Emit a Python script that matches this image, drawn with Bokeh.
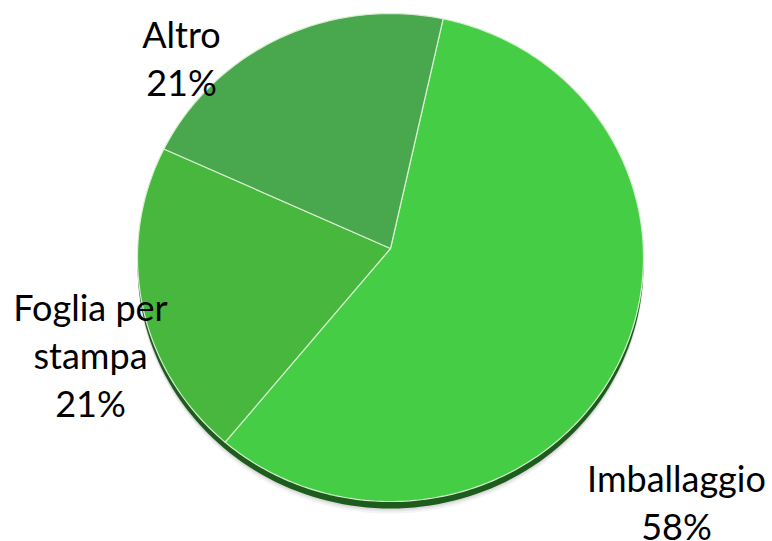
import math
from bokeh.plotting import figure
from bokeh.models import Range1d, ColumnDataSource
from bokeh.core.properties import value
from bokeh.embed import file_html
from bokeh.resources import INLINE

# ---- data (clockwise from the top) ----
categories = ["Imballaggio", "Foglia per stampa", "Altro"]
shares = [58, 21, 21]
label_lines = [["Imballaggio"], ["Foglia per", "stampa"], ["Altro"]]
colors = ["#45CE45", "#47B73E", "#49A84D"]

# ---- layout (picture pixel coordinates) ----
W, H = 772, 541
CX, CY, RX, RY = 390.0, 257.0, 253.0, 244.0
VX, VY = 390.0, 248.0
START_DEG = 12.0  # Imballaggio starts here, going clockwise from top
DEPTH = 7.0
label_pos = [(676, 477), (90, 306), (181, 33)]
LINE_GAP = 48

p = figure(width=W, height=H, x_range=Range1d(0, W), y_range=Range1d(H, 0),
           output_backend="svg", toolbar_location=None, min_border=0,
           x_axis_type=None, y_axis_type=None)
p.grid.visible = False
p.outline_line_color = None
p.background_fill_color = "white"
p.border_fill_color = "white"


def arc(t0, t1, n, cx=CX, cy=CY):
    xs, ys = [], []
    for i in range(n + 1):
        t = math.radians(t0 + (t1 - t0) * i / n)
        xs.append(cx + RX * math.sin(t))
        ys.append(cy - RY * math.cos(t))
    return xs, ys

# soft shadow
for k, a in [(12, 0.08), (10, 0.10), (8.5, 0.12)]:
    xs, ys = arc(0, 360, 200, cy=CY + k)
    p.patch(xs, ys, fill_color="#777777", fill_alpha=a, line_color=None)

# side (depth)
xs, ys = arc(0, 360, 200, cy=CY + DEPTH)
p.patch(xs, ys, fill_color="#1E5C1E", line_color=None)

# top faces
total = float(sum(shares))
ang = START_DEG
for cat, v, c in zip(categories, shares, colors):
    span = 360.0 * v / total
    xs, ys = arc(ang, ang + span, max(8, int(span)))
    p.patch([VX] + xs, [VY] + ys, fill_color=c, line_color="#D6EFD0", line_width=1.2)
    ang += span

# labels
lx, ly, lt = [], [], []
for lines, v, (x0, y0) in zip(label_lines, shares, label_pos):
    allines = lines + [f"{v}%"]
    for i, t in enumerate(allines):
        lx.append(x0)
        ly.append(y0 + i * LINE_GAP)
        lt.append(t)
src = ColumnDataSource(dict(x=lx, y=ly, text=lt))
p.text(x="x", y="y", text="text", source=src, text_align="center",
       text_baseline="alphabetic", text_font=value("Lato"),
       text_font_size="36px", text_color="#000000")

open("out.html", "w").write(file_html(p, INLINE))
